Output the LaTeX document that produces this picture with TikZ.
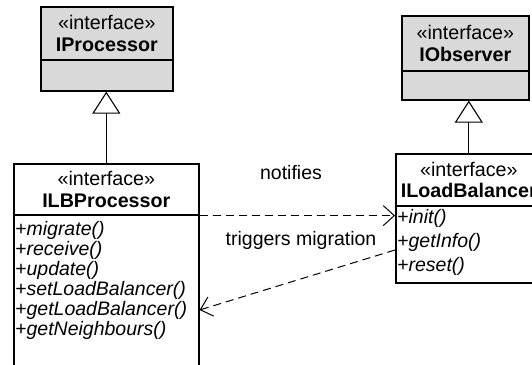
\documentclass[tikz,border=0pt]{standalone}
\usepackage{fontspec}
\setmainfont{Liberation Sans}
\usetikzlibrary{arrows.meta, calc}
\definecolor{ifcgray}{RGB}{217,217,217}
\tikzset{
  box/.style={draw, line width=1.6pt, anchor=north west, inner sep=0pt, align=center,
    font=\fontsize{19.7}{21.5}\selectfont},
  meth/.style={anchor=west, inner sep=0pt, font=\fontsize{19.5}{20}\selectfont\itshape},
  lbl/.style={font=\fontsize{19.5}{20}\selectfont},
  gen/.style={line width=1.1pt, -{Triangle[open, length=22pt, width=28pt]}},
  dep/.style={line width=1pt, dash pattern=on 8pt off 5pt, -{Straight Barb[length=11pt, width=20pt]}}
}

\begin{document}
\begin{tikzpicture}[x=1pt, y=-1pt]
  \useasboundingbox (0,0) rectangle (532,364);
  % IProcessor
  \node[box, fill=ifcgray, minimum width=132pt, minimum height=53pt] (prhd) at (40,6)
    {«interface»\\\textbf{IProcessor}};
  \node[box, fill=ifcgray, minimum width=132pt, minimum height=31pt] (prbd) at (40,59) {};
  % IObserver
  \node[box, fill=ifcgray, minimum width=127pt, minimum height=55pt] (obhd) at (401,15)
    {«interface»\\\textbf{IObserver}};
  \node[box, fill=ifcgray, minimum width=127pt, minimum height=29pt] (obbd) at (401,70) {};
  % ILBProcessor
  \node[box, minimum width=185pt, minimum height=51pt] (lbphd) at (13,163)
    {«interface»\\\textbf{ILBProcessor}};
  \node[box, minimum width=185pt, minimum height=152pt] (lbpbd) at (13,214) {};
  \foreach \m [count=\i] in {migrate, receive, update, setLoadBalancer, getLoadBalancer, getNeighbours}{
    \node[meth] (lbp-m\i) at (15, 210+20*\i) {+\m()};
  }
  % ILoadBalancer
  \node[box, minimum width=146pt, minimum height=52pt] (lbhd) at (395,153)
    {«interface»\\\textbf{ILoadBalancer}};
  \node[box, minimum width=146pt, minimum height=77pt] (lbbd) at (395,205) {};
  \foreach \m [count=\i] in {init, getInfo, reset}{
    \node[meth] (lb-m\i) at (397, 194+24*\i) {+\m()};
  }
  % connectors
  \draw[gen] (lbphd.north) -- (lbphd.north |- prbd.south);
  \draw[gen] (lbhd.north) -- (lbhd.north |- obbd.south);
  \draw[dep] (lbphd.south east) -- (lbphd.south east -| lbbd.west);
  \draw[dep] ($(lbbd.west |- lb-m2)+(0,8)$) -- (lbpbd.east |- lbp-m5);
  \node[lbl] (notif) at (291,173) {notifies};
  \node[lbl] (trig) at (301,240) {triggers migration};
\end{tikzpicture}
\end{document}
